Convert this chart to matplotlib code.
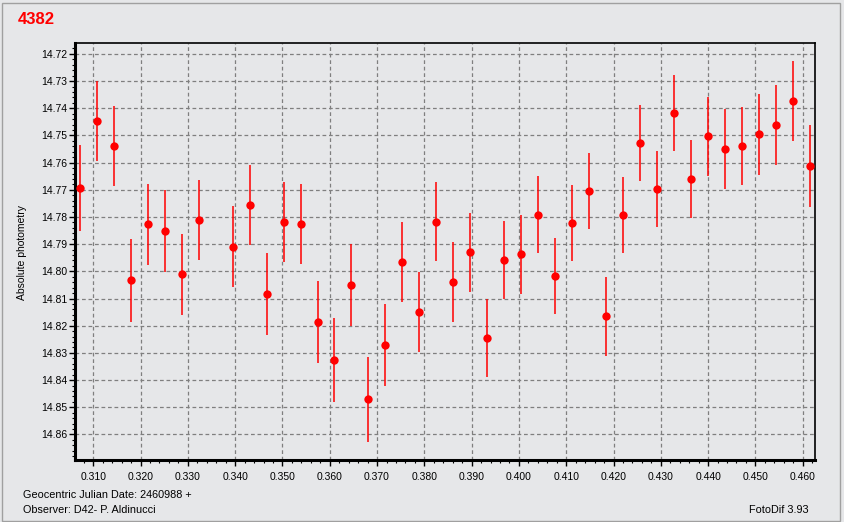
import matplotlib
matplotlib.use("Agg")
import matplotlib.pyplot as plt
from matplotlib.ticker import MultipleLocator, FormatStrFormatter
from matplotlib.patches import Rectangle

# ---- data ----
jd = [0.30719, 0.31078, 0.31438, 0.31797, 0.32157, 0.32516, 0.32882, 0.33235,
      0.33948, 0.34307, 0.34673, 0.35033, 0.35392, 0.35752, 0.36090, 0.36449,
      0.36815, 0.37168, 0.37528, 0.37887, 0.38247, 0.38606, 0.38966, 0.39325,
      0.39685, 0.40044, 0.40404, 0.40763, 0.41123, 0.41482, 0.41842, 0.42201,
      0.42561, 0.42920, 0.43280, 0.43639, 0.43999, 0.44352, 0.44717, 0.45077,
      0.45436, 0.45790, 0.46155]
mag = [14.7693, 14.7447, 14.7539, 14.8033, 14.7826, 14.7851, 14.8010, 14.7811,
       14.7910, 14.7756, 14.8083, 14.7818, 14.7826, 14.8186, 14.8326, 14.8050,
       14.8470, 14.8271, 14.7965, 14.8149, 14.7818, 14.8039, 14.7930, 14.8245,
       14.7958, 14.7937, 14.7791, 14.8017, 14.7822, 14.7704, 14.8165, 14.7793,
       14.7528, 14.7697, 14.7418, 14.7660, 14.7503, 14.7550, 14.7539, 14.7496,
       14.7462, 14.7374, 14.7613]
err = [0.0157, 0.0148, 0.0148, 0.0152, 0.0149, 0.0150, 0.0149, 0.0147,
       0.0149, 0.0146, 0.0152, 0.0148, 0.0147, 0.0150, 0.0154, 0.0151,
       0.0156, 0.0150, 0.0148, 0.0148, 0.0145, 0.0146, 0.0145, 0.0144,
       0.0142, 0.0145, 0.0141, 0.0141, 0.0141, 0.0139, 0.0145, 0.0141,
       0.0139, 0.0141, 0.0139, 0.0143, 0.0145, 0.0146, 0.0143, 0.0148,
       0.0147, 0.0147, 0.0150]

title = "4382"
ylabel = "Absolute photometry"
xlabel_text = "Geocentric Julian Date: 2460988 +"
observer = "Observer: D42- P. Aldinucci"
software = "FotoDif 3.93"

bg = "#e6e7e9"
W, H = 844, 522
fig = plt.figure(figsize=(W / 100, H / 100), dpi=100, facecolor=bg)

ax = fig.add_axes([74.7 / W, 1 - 460 / H, (815 - 74.7) / W, (460 - 43.3) / H])
ax.set_facecolor(bg)

ax.errorbar(jd, mag, yerr=err, fmt="o", color="#ff0000", ecolor="#ff0000",
            markersize=6, elinewidth=1.1, capsize=0, markeredgewidth=0, zorder=3)

ax.set_xlim(0.30607, 0.46260)
ax.set_ylim(14.8694, 14.7161)

ax.xaxis.set_major_locator(MultipleLocator(0.01))
ax.xaxis.set_minor_locator(MultipleLocator(0.002))
ax.yaxis.set_major_locator(MultipleLocator(0.01))
ax.yaxis.set_minor_locator(MultipleLocator(0.002))
ax.xaxis.set_major_formatter(FormatStrFormatter("%.3f"))
ax.yaxis.set_major_formatter(FormatStrFormatter("%.2f"))

ax.grid(True, which="major", color="#7f7f7f", linestyle=(0, (3.0, 2.2)), linewidth=0.9)
ax.set_axisbelow(True)

ax.tick_params(axis="both", which="major", length=4, width=1, color="black",
               labelsize=7.5, direction="out")
ax.tick_params(axis="both", which="minor", length=2.5, width=0.8, color="black",
               direction="out")
ax.tick_params(axis="x", pad=5)
ax.tick_params(axis="y", pad=1.5)
for lab in ax.get_xticklabels() + ax.get_yticklabels():
    lab.set_fontfamily("Liberation Sans")

ax.spines["left"].set_linewidth(2.2)
ax.spines["bottom"].set_linewidth(2.2)
ax.spines["top"].set_linewidth(1.2)
ax.spines["right"].set_linewidth(1.2)

fig.text(18 / W, 1 - 19.5 / H, title, color="#ff0000", fontsize=12, fontweight="bold",
         family="Liberation Sans", ha="left", va="center")
fig.text(22 / W, 1 - 252 / H, ylabel, rotation=90, fontsize=7.5, family="Liberation Sans",
         ha="center", va="center")
fig.text(22.7 / W, 1 - 495 / H, xlabel_text, fontsize=7.8, family="Liberation Sans",
         ha="left", va="center")
fig.text(22.7 / W, 1 - 510 / H, observer, fontsize=7.8, family="Liberation Sans",
         ha="left", va="center")
fig.text(809 / W, 1 - 510 / H, software, fontsize=7.8, family="Liberation Sans",
         ha="right", va="center")

# window frame
fig.patches.append(Rectangle((1.5 / W, 1.5 / H), (840 - 1.5) / W, (519 - 1.5) / H,
                             transform=fig.transFigure, fill=False,
                             edgecolor="#a0a0a0", linewidth=1.0))

fig.savefig("out.png", dpi=100, facecolor=bg)
